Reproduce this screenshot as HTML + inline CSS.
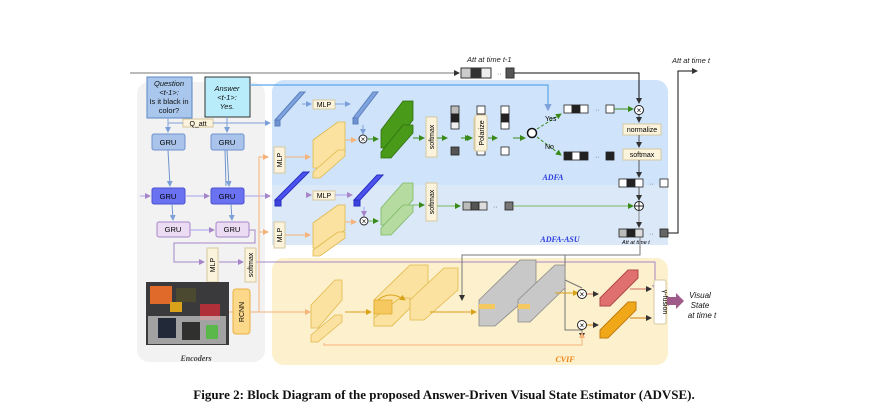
<!DOCTYPE html>
<html><head><meta charset="utf-8"><style>
html,body{margin:0;padding:0;background:#fff;}
svg{display:block;font-family:"Liberation Sans",sans-serif;}
</style></head><body>
<svg width="888" height="420" viewBox="0 0 888 420" xmlns="http://www.w3.org/2000/svg">
<defs>
<marker id="a" markerWidth="6" markerHeight="6" refX="5" refY="3" orient="auto"><path d="M0,0 L6,3 L0,6 z" fill="context-stroke"/></marker>
<marker id="ag" markerWidth="6" markerHeight="6" refX="5" refY="3" orient="auto"><path d="M0,0 L6,3 L0,6 z" fill="#3a8a1a"/></marker>
<marker id="ab" markerWidth="6" markerHeight="6" refX="5" refY="3" orient="auto"><path d="M0,0 L6,3 L0,6 z" fill="#7da0d8"/></marker>
<marker id="ao" markerWidth="6" markerHeight="6" refX="5" refY="3" orient="auto"><path d="M0,0 L6,3 L0,6 z" fill="#f5b27a"/></marker>
<marker id="ap" markerWidth="6" markerHeight="6" refX="5" refY="3" orient="auto"><path d="M0,0 L6,3 L0,6 z" fill="#a685c8"/></marker>
<marker id="ak" markerWidth="6" markerHeight="6" refX="5" refY="3" orient="auto"><path d="M0,0 L6,3 L0,6 z" fill="#333"/></marker>
<marker id="ay" markerWidth="6" markerHeight="6" refX="5" refY="3" orient="auto"><path d="M0,0 L6,3 L0,6 z" fill="#d9a21a"/></marker>
</defs>

<!-- panels -->
<rect x="137" y="82" width="128" height="280" rx="12" fill="#f2f2f2"/>
<rect x="272" y="80" width="396" height="165" rx="12" fill="#cfe4fa"/>
<rect x="272" y="185" width="396" height="60" fill="#dbe8f8"/>
<rect x="272" y="258" width="396" height="107" rx="12" fill="#fdf0cc"/>

<!-- top lines -->
<line x1="130" y1="73" x2="459" y2="73" stroke="#777" stroke-width="1" marker-end="url(#ak)"/>
<g stroke="#333" stroke-width="1">
<rect x="461" y="68" width="10" height="10" fill="#ccc"/><rect x="471" y="68" width="10" height="10" fill="#333"/><rect x="481" y="68" width="10" height="10" fill="#eee"/>
<rect x="506" y="68" width="8" height="10" fill="#555"/>
</g>
<text x="497" y="76" font-size="7" fill="#555">··</text>
<polyline points="514,73 639,73 639,103" fill="none" stroke="#111" stroke-width="1" marker-end="url(#ak)"/>
<text x="467" y="62" font-size="7.5" font-style="italic" fill="#222">Att at time t-1</text>
<text x="672" y="63" font-size="7.5" font-style="italic" fill="#222">Att at time t</text>

<!-- Question / Answer -->
<rect x="147" y="77" width="45" height="41" fill="#a9c6ec" stroke="#5b86c5"/>
<text font-size="7.5" fill="#111" text-anchor="middle"><tspan x="169" y="86" font-style="italic">Question</tspan><tspan x="169" y="95" font-style="italic">&lt;t-1&gt;:</tspan><tspan x="169" y="104">Is it black in</tspan><tspan x="169" y="113">color?</tspan></text>
<rect x="205" y="77" width="45" height="40" fill="#b8ecfb" stroke="#333"/>
<text font-size="7.5" fill="#111" text-anchor="middle" font-style="italic"><tspan x="227" y="91">Answer</tspan><tspan x="227" y="100">&lt;t-1&gt;:</tspan><tspan x="227" y="109">Yes.</tspan></text>
<polyline points="250,85 548,85 548,110" fill="none" stroke="#5aa8ee" stroke-width="1.2" marker-end="url(#ab)"/>
<rect x="183" y="119" width="30" height="8" fill="#fbf3dc" stroke="#d6c9a0"/>
<text x="198" y="126" font-size="7" text-anchor="middle">Q_att</text>
<line x1="168" y1="123" x2="183" y2="123" stroke="#7da0d8"/>
<line x1="213" y1="123" x2="270" y2="123" stroke="#7da0d8" marker-end="url(#ab)"/>
<line x1="168" y1="118" x2="168" y2="132" stroke="#7da0d8" marker-end="url(#ab)"/>
<line x1="227" y1="117" x2="227" y2="132" stroke="#7da0d8" marker-end="url(#ab)"/>

<!-- GRUs -->
<g font-size="7.5" text-anchor="middle">
<rect x="152" y="134" width="33" height="16" rx="2" fill="#a9c3ea" stroke="#6f93cf"/><text x="168" y="145">GRU</text>
<rect x="211" y="134" width="33" height="16" rx="2" fill="#a9c3ea" stroke="#6f93cf"/><text x="227" y="145">GRU</text>
<rect x="152" y="188" width="33" height="16" rx="2" fill="#6a72f2" stroke="#4a52d0"/><text x="168" y="199">GRU</text>
<rect x="211" y="188" width="33" height="16" rx="2" fill="#6a72f2" stroke="#4a52d0"/><text x="227" y="199">GRU</text>
<rect x="157" y="222" width="33" height="15" rx="2" fill="#ecdcf3" stroke="#a685c8"/><text x="173" y="232">GRU</text>
<rect x="216" y="222" width="33" height="15" rx="2" fill="#ecdcf3" stroke="#a685c8"/><text x="232" y="232">GRU</text>
</g>
<g stroke="#6f93cf" stroke-width="1" fill="none">
<line x1="168" y1="150" x2="170" y2="186" marker-end="url(#ab)"/><line x1="227" y1="150" x2="229" y2="186" marker-end="url(#ab)"/>
<line x1="225" y1="150" x2="226" y2="186"/>
<line x1="172" y1="204" x2="173" y2="220" marker-end="url(#ab)"/><line x1="231" y1="204" x2="232" y2="220" marker-end="url(#ab)"/>
</g>
<g stroke="#a8a2f0" stroke-width="1">
<line x1="140" y1="196" x2="150" y2="196" marker-end="url(#ap)"/>
<line x1="185" y1="196" x2="209" y2="196" marker-end="url(#ap)"/>
<line x1="244" y1="196" x2="270" y2="196" marker-end="url(#ap)"/>
<line x1="190" y1="230" x2="214" y2="230" marker-end="url(#ap)"/>
</g>
<polyline points="249,230 255,230 255,243 174,243 174,262 204,262" fill="none" stroke="#a685c8" marker-end="url(#ap)"/>
<line x1="219" y1="262" x2="243" y2="262" stroke="#a685c8" marker-end="url(#ap)"/>
<polyline points="256,262 655,262 655,290" fill="none" stroke="#a685c8" marker-end="url(#ap)"/>
<rect x="207" y="248" width="11" height="34" fill="#fbf3dc" stroke="#d6c9a0"/>
<text transform="translate(215,265) rotate(-90)" font-size="7" text-anchor="middle">MLP</text>
<rect x="245" y="248" width="11" height="34" fill="#fbf3dc" stroke="#d6c9a0"/>
<text transform="translate(253,265) rotate(-90)" font-size="7" text-anchor="middle">softmax</text>

<!-- image -->
<rect x="146" y="282" width="83" height="63" fill="#3a3a3c"/>
<rect x="150" y="286" width="22" height="18" fill="#e06a2a"/>
<rect x="176" y="288" width="20" height="14" fill="#4b4a30"/>
<rect x="200" y="304" width="20" height="16" fill="#b0303a"/>
<rect x="148" y="316" width="78" height="28" fill="#cfcfcf" opacity="0.7"/>
<rect x="158" y="318" width="18" height="20" fill="#222a3a"/>
<rect x="182" y="322" width="18" height="18" fill="#30312e"/>
<rect x="206" y="325" width="12" height="14" fill="#5ab84a"/>
<rect x="170" y="302" width="12" height="10" fill="#d9a21a"/>
<rect x="233" y="289" width="17" height="45" rx="3" fill="#fcd98a" stroke="#e8b040"/>
<text transform="translate(244,312) rotate(-90)" font-size="7" text-anchor="middle">RCNN</text>
<line x1="229" y1="312" x2="233" y2="312" stroke="#f5b27a"/>
<!-- orange feature line -->
<polyline points="250,312 259,312 259,157 268,157" fill="none" stroke="#f5b27a" marker-end="url(#ao)"/>
<line x1="259" y1="232" x2="268" y2="232" stroke="#f5b27a" marker-end="url(#ao)"/>
<line x1="259" y1="312" x2="310" y2="312" stroke="#f5b27a" marker-end="url(#ao)"/>

<!-- MLP boxes vertical -->
<rect x="274" y="147" width="11" height="26" fill="#fbf3dc" stroke="#d6c9a0"/>
<text transform="translate(282,160) rotate(-90)" font-size="7" text-anchor="middle">MLP</text>
<rect x="274" y="222" width="11" height="26" fill="#fbf3dc" stroke="#d6c9a0"/>
<text transform="translate(282,235) rotate(-90)" font-size="7" text-anchor="middle">MLP</text>
<line x1="285" y1="157" x2="310" y2="157" stroke="#f5b27a" marker-end="url(#ao)"/>
<line x1="285" y1="235" x2="310" y2="235" stroke="#f5b27a" marker-end="url(#ao)"/>

<!-- blue bars -->
<g stroke="#5b7fc0" stroke-width="1">
<polygon points="275,120 300,92 305,92 280,120" fill="#7fa3dc"/>
<rect x="275" y="120" width="5" height="6" fill="#6f93cf"/>
<polygon points="353,118 373,92 378,92 358,118" fill="#7fa3dc"/>
<rect x="353" y="118" width="5" height="6" fill="#6f93cf"/>
</g>
<g stroke="#2a30c0" stroke-width="1">
<polygon points="275,200 303,172 309,172 281,200" fill="#4b52ee"/>
<rect x="275" y="200" width="6" height="6" fill="#3b42de"/>
<polygon points="354,200 377,175 383,175 360,200" fill="#4b52ee"/>
<rect x="354" y="200" width="6" height="6" fill="#3b42de"/>
</g>
<g font-size="7" text-anchor="middle">
<rect x="313" y="100" width="22" height="9" fill="#fbf3dc" stroke="#d6c9a0"/><text x="324" y="107">MLP</text>
<rect x="313" y="191" width="22" height="9" fill="#fbf3dc" stroke="#d6c9a0"/><text x="324" y="198">MLP</text>
</g>
<line x1="302" y1="104" x2="311" y2="104" stroke="#7da0d8" marker-end="url(#ab)"/>
<line x1="335" y1="104" x2="350" y2="104" stroke="#7da0d8" marker-end="url(#ab)"/>
<line x1="307" y1="195" x2="311" y2="195" stroke="#a8a2f0" marker-end="url(#ap)"/>
<line x1="335" y1="195" x2="352" y2="195" stroke="#a8a2f0" marker-end="url(#ap)"/>
<line x1="363" y1="125" x2="363" y2="134" stroke="#7da0d8" marker-end="url(#ab)"/>
<line x1="364" y1="207" x2="364" y2="216" stroke="#a8a2f0" marker-end="url(#ap)"/>

<!-- yellow stacks -->
<g fill="#fbe2a0" stroke="#e0b84a" stroke-width="0.8">
<polygon points="313,140 338,122 345,122 345,150 320,168 313,168"/>
<polygon points="313,172 338,150 345,150 345,156 320,178 313,178"/>
<polygon points="313,223 338,205 345,205 345,230 320,248 313,248"/>
<polygon points="313,250 338,232 345,232 345,238 320,256 313,256"/>
</g>
<line x1="345" y1="140" x2="356" y2="140" stroke="#f5b27a" marker-end="url(#ao)"/>
<line x1="345" y1="222" x2="356" y2="222" stroke="#f5b27a" marker-end="url(#ao)"/>
<g font-size="10" text-anchor="middle" fill="#111">
<circle cx="363" cy="139" r="4" fill="#fff" stroke="#222"/><text x="363" y="142" font-size="8">×</text>
<circle cx="364" cy="221" r="4" fill="#fff" stroke="#222"/><text x="364" y="224" font-size="8">×</text>
</g>

<!-- green stacks -->
<g fill="#4a9a1a" stroke="#2f6e10" stroke-width="0.8">
<polygon points="381,130 403,101 413,101 413,120 391,148 381,148"/>
<polygon points="381,152 403,125 413,125 413,133 391,158 381,158"/>
</g>
<g fill="#b5dba0" stroke="#7ab860" stroke-width="0.8">
<polygon points="381,208 403,183 413,183 413,200 391,225 381,225"/>
<polygon points="381,228 403,205 413,205 413,212 391,235 381,235"/>
</g>
<line x1="368" y1="139" x2="378" y2="139" stroke="#3a8a1a" marker-end="url(#ag)"/>
<line x1="369" y1="221" x2="378" y2="221" stroke="#7ab860" marker-end="url(#ag)"/>
<line x1="413" y1="138" x2="424" y2="138" stroke="#3a8a1a" marker-end="url(#ag)"/>
<line x1="413" y1="205" x2="424" y2="205" stroke="#7ab860" marker-end="url(#ag)"/>
<rect x="426" y="117" width="11" height="40" fill="#fbf3dc" stroke="#d6c9a0"/>
<text transform="translate(434,137) rotate(-90)" font-size="7" text-anchor="middle">softmax</text>
<rect x="426" y="183" width="11" height="38" fill="#fbf3dc" stroke="#d6c9a0"/>
<text transform="translate(434,202) rotate(-90)" font-size="7" text-anchor="middle">softmax</text>
<line x1="437" y1="138" x2="447" y2="138" stroke="#3a8a1a" marker-end="url(#ag)"/>
<g stroke="#222" stroke-width="0.8">
<rect x="451" y="106" width="8" height="8" fill="#bbb"/><rect x="451" y="114" width="8" height="8" fill="#222"/><rect x="451" y="122" width="8" height="7" fill="#eee"/>
<rect x="451" y="147" width="8" height="8" fill="#555"/>
<rect x="477" y="106" width="8" height="8" fill="#fff"/><rect x="477" y="114" width="8" height="8" fill="#222"/><rect x="477" y="122" width="8" height="7" fill="#fff"/>
<rect x="477" y="147" width="8" height="8" fill="#fff"/>
</g>
<line x1="462" y1="138" x2="470" y2="138" stroke="#3a8a1a" marker-end="url(#ag)"/>
<rect x="476" y="117" width="11" height="34" rx="2" fill="#fbf3dc" stroke="#d6c9a0" transform="translate(-2,0)"/>
<rect x="473" y="117" width="13" height="34" fill="none"/>
<line x1="488" y1="138" x2="497" y2="138" stroke="#3a8a1a" marker-end="url(#ag)"/>
<line x1="513" y1="138" x2="525" y2="138" stroke="#3a8a1a" marker-end="url(#ag)"/>
<!-- fix polarize placement -->
<rect x="474" y="117" width="12" height="34" rx="2" fill="#fbf3dc" stroke="#d6c9a0" opacity="0"/>
<circle cx="532" cy="133" r="4.5" fill="#fff" stroke="#111" stroke-width="1.5"/>
<line x1="537" y1="129" x2="561" y2="114" stroke="#3a8a1a" marker-end="url(#ag)" stroke-dasharray="3,2"/>
<line x1="537" y1="137" x2="561" y2="155" stroke="#3a8a1a" marker-end="url(#ag)" stroke-dasharray="3,2"/>
<text x="545" y="121" font-size="7">Yes</text>
<text x="545" y="149" font-size="7">No</text>
<g stroke="#222" stroke-width="0.8">
<rect x="564" y="105" width="8" height="8" fill="#fff"/><rect x="572" y="105" width="8" height="8" fill="#222"/><rect x="580" y="105" width="8" height="8" fill="#fff"/>
<rect x="606" y="105" width="8" height="8" fill="#fff"/>
<rect x="564" y="152" width="8" height="8" fill="#222"/><rect x="572" y="152" width="8" height="8" fill="#fff"/><rect x="580" y="152" width="8" height="8" fill="#222"/>
<rect x="606" y="152" width="8" height="8" fill="#222"/>
</g>
<text x="595" y="112" font-size="7" fill="#555">··</text><text x="595" y="159" font-size="7" fill="#555">··</text>
<line x1="614" y1="109" x2="633" y2="109" stroke="#3a8a1a" marker-end="url(#ag)"/>
<circle cx="639" cy="110" r="4.5" fill="#fff" stroke="#222"/><text x="639" y="113" font-size="8" text-anchor="middle">×</text>
<line x1="639" y1="115" x2="639" y2="122" stroke="#555" marker-end="url(#ak)"/>
<rect x="623" y="124" width="38" height="11" fill="#fbf3dc" stroke="#d6c9a0"/><text x="642" y="132" font-size="7" text-anchor="middle">normalize</text>
<line x1="639" y1="135" x2="639" y2="147" stroke="#555" marker-end="url(#ak)"/>
<rect x="623" y="149" width="38" height="11" fill="#fbf3dc" stroke="#d6c9a0"/><text x="642" y="157" font-size="7" text-anchor="middle">softmax</text>
<line x1="639" y1="160" x2="639" y2="177" stroke="#555" marker-end="url(#ak)"/>
<g stroke="#222" stroke-width="0.8">
<rect x="619" y="179" width="8" height="8" fill="#fff"/><rect x="627" y="179" width="8" height="8" fill="#222"/><rect x="635" y="179" width="8" height="8" fill="#fff"/>
<rect x="660" y="179" width="8" height="8" fill="#fff"/>
<rect x="463" y="202" width="8" height="8" fill="#bbb"/><rect x="471" y="202" width="8" height="8" fill="#555"/><rect x="479" y="202" width="8" height="8" fill="#ddd"/>
<rect x="505" y="202" width="8" height="8" fill="#777"/>
<rect x="619" y="229" width="8" height="8" fill="#bbb"/><rect x="627" y="229" width="8" height="8" fill="#222"/><rect x="635" y="229" width="8" height="8" fill="#ddd"/>
<rect x="660" y="229" width="8" height="8" fill="#666"/>
</g>
<text x="649" y="186" font-size="7" fill="#555">··</text><text x="493" y="209" font-size="7" fill="#555">··</text><text x="649" y="236" font-size="7" fill="#555">··</text>
<line x1="437" y1="206" x2="460" y2="206" stroke="#7ab860" marker-end="url(#ag)"/>
<line x1="513" y1="206" x2="633" y2="206" stroke="#7ab860" marker-end="url(#ag)"/>
<line x1="639" y1="187" x2="639" y2="200" stroke="#555" marker-end="url(#ak)"/>
<circle cx="639" cy="206" r="4.5" fill="#fff" stroke="#222"/><line x1="634.5" y1="206" x2="643.5" y2="206" stroke="#222"/><line x1="639" y1="201.5" x2="639" y2="210.5" stroke="#222"/>
<line x1="639" y1="211" x2="639" y2="227" stroke="#888" marker-end="url(#ak)"/>
<text x="622" y="244" font-size="5.5" font-style="italic">Att at time t</text>
<polyline points="668,233 678,233 678,71 697,71" fill="none" stroke="#111" marker-end="url(#ak)"/>
<text x="553" y="180" font-size="8" font-weight="bold" font-style="italic" fill="#2a3adf" font-family="Liberation Serif,serif" text-anchor="middle">ADFA</text>
<text x="560" y="242" font-size="8" font-weight="bold" font-style="italic" fill="#2a3adf" font-family="Liberation Serif,serif" text-anchor="middle">ADFA-ASU</text>

<!-- polarize label on top -->
<rect x="475" y="115" width="12" height="36" rx="2" fill="#fbf3dc" stroke="#d6c9a0"/>
<text transform="translate(484,133) rotate(-90)" font-size="7" text-anchor="middle">Polarize</text>
<line x1="461" y1="138" x2="472" y2="138" stroke="#3a8a1a" marker-end="url(#ag)"/>
<g stroke="#222" stroke-width="0.8">
<rect x="501" y="106" width="8" height="8" fill="#fff"/><rect x="501" y="114" width="8" height="8" fill="#222"/><rect x="501" y="122" width="8" height="7" fill="#fff"/>
<rect x="501" y="147" width="8" height="8" fill="#fff"/>
</g>

<!-- CVIF -->
<polyline points="640,237 640,255 462,255 462,300" fill="none" stroke="#777" marker-end="url(#ak)"/>
<polyline points="565,255 565,330 582,330 582,338" fill="none" stroke="#777" marker-end="url(#ak)"/>
<line x1="565" y1="280" x2="582" y2="288" stroke="#777"/>
<g fill="#fbe2a0" stroke="#e0b84a" stroke-width="0.8">
<polygon points="311,305 335,280 342,280 342,300 318,328 311,328"/>
<polygon points="311,335 335,315 342,315 342,322 318,342 311,342"/>
<polygon points="374,300 410,265 428,265 428,290 392,326 374,326"/>
<polygon points="374,318 400,298 410,298 410,308 392,326 374,326"/>
<polygon points="410,300 444,268 458,268 458,290 424,320 410,320"/>
</g>
<g fill="#f5c860" stroke="#d9a21a" stroke-width="0.6"><rect x="374" y="300" width="18" height="14"/></g>
<g fill="#c8c8c8" stroke="#888" stroke-width="0.8">
<polygon points="479,300 520,260 536,260 536,290 495,326 479,326"/>
<polygon points="518,300 555,265 565,265 565,288 530,322 518,322"/>
</g>
<rect x="479" y="304" width="16" height="5" fill="#f5c860"/>
<rect x="518" y="304" width="12" height="5" fill="#f5c860"/>
<line x1="345" y1="312" x2="371" y2="312" stroke="#d9a21a" marker-end="url(#ay)"/>
<line x1="430" y1="312" x2="476" y2="312" stroke="#d9a21a" marker-end="url(#ay)"/>
<path d="M378,300 Q390,290 405,300" fill="none" stroke="#d9a21a" marker-end="url(#ay)"/>
<line x1="555" y1="293" x2="578" y2="293" stroke="#d9a21a" marker-end="url(#ay)"/>
<polyline points="324,343 324,345 582,345 582,333" fill="none" stroke="#f5b27a" marker-end="url(#ao)"/>
<circle cx="582" cy="294" r="4.5" fill="#fff" stroke="#222"/><text x="582" y="297" font-size="8" text-anchor="middle">×</text>
<circle cx="582" cy="325" r="4.5" fill="#fff" stroke="#222"/><text x="582" y="328" font-size="8" text-anchor="middle">×</text>
<line x1="587" y1="294" x2="598" y2="294" stroke="#d07060" marker-end="url(#ak)"/>
<line x1="587" y1="325" x2="598" y2="325" stroke="#d08010" marker-end="url(#ak)"/>
<polygon points="600,298 628,270 638,270 638,278 610,306 600,306" fill="#e07070" stroke="#b04848"/>
<polygon points="600,330 628,302 636,302 636,310 608,338 600,338" fill="#f0a818" stroke="#c07c10"/>
<line x1="630" y1="289" x2="651" y2="289" stroke="#d07060" marker-end="url(#ak)"/>
<line x1="630" y1="318" x2="651" y2="318" stroke="#d08010" marker-end="url(#ak)"/>
<rect x="654" y="280" width="12" height="44" rx="2" fill="#fff" stroke="#d6c9a0"/>
<text transform="translate(663,302) rotate(90)" font-size="7" text-anchor="middle">γ-fusion</text>
<polygon points="667,297 676,297 676,293 684,301 676,309 676,305 667,305" fill="#a05a8a"/>
<text font-size="8" font-style="italic" text-anchor="middle" fill="#111"><tspan x="700" y="298">Visual</tspan><tspan x="700" y="308">State</tspan><tspan x="702" y="318">at time t</tspan></text>
<text x="565" y="362" font-size="8" font-weight="bold" font-style="italic" fill="#f08010" font-family="Liberation Serif,serif" text-anchor="middle">CVIF</text>
<text x="196" y="361" font-size="8" font-weight="bold" font-style="italic" fill="#444" font-family="Liberation Serif,serif" text-anchor="middle">Encoders</text>

<text x="444" y="399" font-size="13" font-weight="bold" font-family="Liberation Serif,serif" text-anchor="middle" fill="#111">Figure 2: Block Diagram of the proposed Answer-Driven Visual State Estimator (ADVSE).</text>
</svg>
</body></html>
